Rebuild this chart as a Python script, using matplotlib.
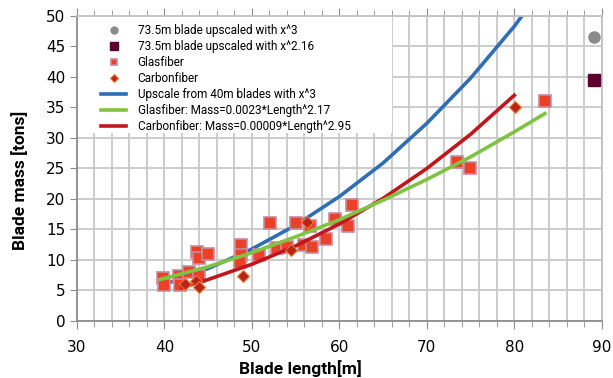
import matplotlib
matplotlib.use("Agg")
import matplotlib.pyplot as plt
from matplotlib.patches import Rectangle
from matplotlib.ticker import MultipleLocator

# scatter data: blade length [m], blade mass [tons]
glas_len = [39.8, 39.9, 41.7, 41.8, 42.8, 43.7, 43.9, 43.9, 45.0, 48.7, 48.8, 48.6,
            50.8, 52.1, 52.9, 54.0, 55.0, 55.9, 56.7, 56.9, 58.5, 59.5, 61.0, 61.4,
            73.5, 74.9, 83.5]
glas_mass = [7.0, 5.9, 7.3, 5.9, 8.1, 11.3, 10.3, 7.3, 11.0, 12.4, 10.9, 9.6,
             10.9, 16.0, 11.9, 12.2, 16.0, 12.5, 15.5, 12.2, 13.4, 16.7, 15.5, 19.0,
             26.1, 25.0, 36.0]

carbon_len = [42.3, 43.6, 43.9, 49.0, 54.5, 56.3, 80.1]
carbon_mass = [6.0, 6.6, 5.6, 7.4, 11.7, 16.3, 35.0]

up3_len = [89.1]
up3_mass = [46.5]
up216_len = [89.1]
up216_mass = [39.5]

# fitted curves
blue_len = [40, 45, 50, 55, 60, 65, 70, 75, 80, 85]
blue_mass = [6.0, 8.6, 11.8, 15.7, 20.4, 25.9, 32.4, 39.8, 48.3, 58.0]

green_len = [39.5, 45, 50, 55, 60, 65, 70, 75, 80, 83.5]
green_mass = [6.8, 8.9, 11.2, 13.8, 16.6, 19.8, 23.2, 26.9, 31.0, 34.0]

red_len = [42, 45, 50, 55, 60, 65, 70, 75, 80]
red_mass = [5.5, 6.8, 9.3, 12.3, 15.9, 20.1, 25.0, 30.6, 37.0]

fig = plt.figure(figsize=(6.13, 3.78), dpi=100)
ax = fig.add_axes([0.1256, 0.1508, 0.856, 0.8069])

ax.set_xlim(30, 90)
ax.set_ylim(0, 50)
ax.xaxis.set_major_locator(MultipleLocator(10))
ax.xaxis.set_minor_locator(MultipleLocator(2))
ax.yaxis.set_major_locator(MultipleLocator(5))

ax.grid(True, which="major", axis="y", color="#c8c8c8", lw=1.3)
ax.grid(True, which="both", axis="x", color="#c8c8c8", lw=1.3)
ax.set_axisbelow(True)

for s in ["left", "bottom"]:
    ax.spines[s].set_color("#8c8c8c")
for s in ["top", "right"]:
    ax.spines[s].set_color("#c0c0c0")
for s in ax.spines.values():
    s.set_linewidth(1.3)

ax.tick_params(axis="x", which="major", length=6, color="#8c8c8c", labelsize=11, top=True, pad=8)
ax.tick_params(axis="x", which="minor", length=4, color="#8c8c8c", top=True)
ax.tick_params(axis="y", which="major", length=5, color="#8c8c8c", labelsize=11)

# white box behind the legend
ax.add_patch(Rectangle((0, 0.615), 0.6, 0.385, transform=ax.transAxes,
                       facecolor="white", edgecolor="none", zorder=1.5))

ax.plot(up3_len, up3_mass, "o", color="#8a8a8a", ms=8, zorder=4,
        label="73.5m blade upscaled with x^3")
ax.plot(up216_len, up216_mass, "s", color="#5c0030", ms=8.5, zorder=4,
        label="73.5m blade upscaled with x^2.16")
ax.plot(glas_len, glas_mass, "s", color="#ea4128", mec="#c98a9e", mew=1.2, ms=8,
        zorder=3, label="Glasfiber")
ax.plot(carbon_len, carbon_mass, "D", color="#b82418", mec="#f07a2c", mew=0.8, ms=6.5,
        zorder=5, label="Carbonfiber")
ax.plot(blue_len, blue_mass, color="#2f6db5", lw=2.6, zorder=2,
        label="Upscale from 40m blades with x^3")
ax.plot(green_len, green_mass, color="#80c342", lw=2.6, zorder=4.5,
        label="Glasfiber: Mass=0.0023*Length^2.17")
ax.plot(red_len, red_mass, color="#c0161c", lw=2.6, zorder=4,
        label="Carbonfiber: Mass=0.00009*Length^2.95")

leg = ax.legend(loc="upper left", bbox_to_anchor=(0.037, 0.99), frameon=False,
                numpoints=1, markerscale=0.62, handlelength=2.1, handletextpad=1.0,
                labelspacing=0.26, borderaxespad=0,
                prop={"family": ["Roboto", "DejaVu Sans"], "size": 8.5})
leg.set_zorder(6)

ax.set_xlabel("Blade length[m]", fontsize=12.5, fontweight="bold",
              family=["Roboto", "DejaVu Sans"])
ax.set_ylabel("Blade mass [tons]", fontsize=12.5, fontweight="bold",
              family=["Roboto", "DejaVu Sans"])
ax.xaxis.set_label_coords(0.425, -0.128)
ax.yaxis.set_label_coords(-0.094, 0.462)

fig.savefig("out.png", dpi=100)
